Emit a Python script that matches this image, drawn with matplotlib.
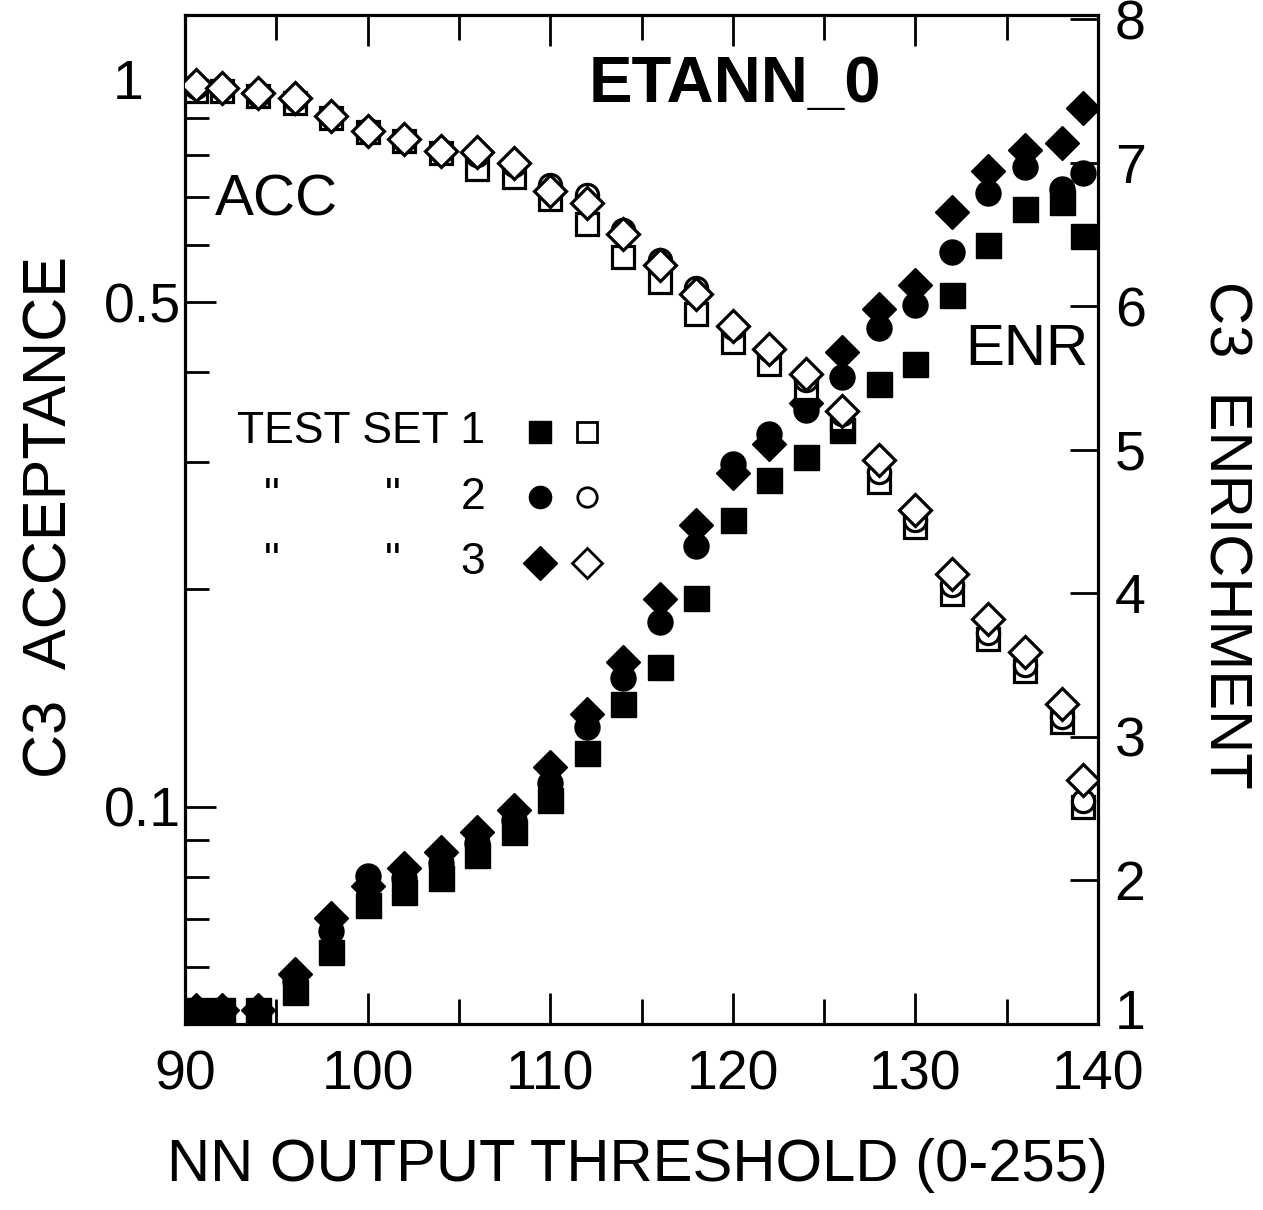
import matplotlib
matplotlib.use("Agg")
import matplotlib.pyplot as plt
import matplotlib.transforms as mtransforms
from matplotlib.ticker import FixedLocator, FixedFormatter, NullFormatter

plt.rcParams['font.family'] = ['Liberation Sans', 'DejaVu Sans']

# NN output threshold values (x)
threshold = [90.6, 92, 94, 96, 98, 100, 102, 104, 106, 108, 110, 112, 114,
             116, 118, 120, 122, 124, 126, 128, 130, 132, 134, 136, 138, 139.2]

# C3 enrichment (right axis, filled markers)
enr_set1 = [1.1, 1.1, 1.1, 1.22, 1.5, 1.83, 1.92, 2.02, 2.18, 2.34, 2.56, 2.89, 3.23,
            3.49, 3.97, 4.51, 4.79, 4.95, 5.14, 5.46, 5.6, 6.08, 6.43, 6.68, 6.73, 6.49]
enr_set2 = [1.1, 1.1, 1.1, 1.3, 1.65, 2.03, 2.02, 2.12, 2.26, 2.42, 2.68, 3.07, 3.41,
            3.80, 4.33, 4.9, 5.11, 5.28, 5.51, 5.85, 6.01, 6.38, 6.79, 6.97, 6.82, 6.93]
enr_set3 = [1.1, 1.1, 1.1, 1.35, 1.74, 1.96, 2.09, 2.2, 2.34, 2.49, 2.79, 3.16, 3.52,
            3.96, 4.48, 4.84, 5.04, 5.33, 5.68, 5.98, 6.15, 6.66, 6.94, 7.09, 7.14, 7.38]

# C3 acceptance (left axis, open markers)
acc_set1 = [0.98, 0.98, 0.965, 0.945, 0.9, 0.86, 0.835, 0.805, 0.764, 0.745, 0.695, 0.641, 0.577,
            0.534, 0.481, 0.44, 0.411, 0.38, 0.345, 0.282, 0.244, 0.197, 0.171, 0.154, 0.131, 0.1]
acc_set2 = [0.995, 0.99, 0.97, 0.955, 0.905, 0.865, 0.84, 0.81, 0.8, 0.775, 0.726, 0.704, 0.63,
            0.573, 0.523, 0.46, 0.43, 0.39, 0.35, 0.291, 0.25, 0.203, 0.174, 0.157, 0.133, 0.102]
acc_set3 = [1.0, 0.99, 0.975, 0.96, 0.906, 0.863, 0.842, 0.81, 0.807, 0.78, 0.712, 0.686, 0.621,
            0.563, 0.514, 0.463, 0.431, 0.398, 0.353, 0.302, 0.258, 0.21, 0.182, 0.164, 0.139, 0.109]

acc_ticks = [0.1, 0.5, 1]
acc_tick_labels = ['0.1', '0.5', '']
acc_minor = [0.06, 0.07, 0.08, 0.09, 0.2, 0.3, 0.4, 0.6, 0.7, 0.8, 0.9]
enr_ticks = [1, 2, 3, 4, 5, 6, 7, 8]
enr_tick_labels = ['', '2', '3', '4', '5', '6', '7', '8']
x_ticks = [90, 100, 110, 120, 130, 140]
x_minor = [95, 105, 115, 125, 135]

fig = plt.figure(figsize=(12.63, 12.10), dpi=100)
ax_enr = fig.add_axes([0.1465, 0.1537, 0.7229, 0.8339])
ax_acc = ax_enr.twinx()

# enrichment on the right, acceptance on the left (acc drawn on top)
ax_enr.yaxis.tick_right()
ax_acc.yaxis.tick_left()

ms_fill = 18
ms_open = 16
lw_open = 2.3
ax_enr.plot(threshold, enr_set1, 's', color='black', ms=ms_fill, ls='none', zorder=3)
ax_enr.plot(threshold, enr_set2, 'o', color='black', ms=ms_fill, ls='none', zorder=3)
ax_enr.plot(threshold, enr_set3, 'D', color='black', ms=ms_fill - 0.5, ls='none', zorder=3)

ax_acc.plot(threshold, acc_set1, 's', mfc='white', mec='black', mew=lw_open, ms=ms_open, ls='none', zorder=4)
ax_acc.plot(threshold, acc_set2, 'o', mfc='white', mec='black', mew=lw_open, ms=ms_open, ls='none', zorder=5)
ax_acc.plot(threshold, acc_set3, 'D', mfc='white', mec='black', mew=lw_open, ms=ms_open, ls='none', zorder=6)

# axes ranges
ax_enr.set_xlim(90, 140)
ax_enr.set_ylim(1, 8.03)
ax_acc.set_yscale('log')
ax_acc.set_ylim(0.05, 1.25)

# x ticks
ax_enr.xaxis.set_major_locator(FixedLocator(x_ticks))
ax_enr.xaxis.set_minor_locator(FixedLocator(x_minor))
ax_enr.tick_params(axis='x', which='both', direction='in', top=True, bottom=True,
                   width=2, labelsize=40, pad=18)
ax_enr.tick_params(axis='x', which='major', length=22)
ax_enr.tick_params(axis='x', which='minor', length=18)

# right y ticks
ax_enr.yaxis.set_major_locator(FixedLocator(enr_ticks))
ax_enr.yaxis.set_major_formatter(FixedFormatter(enr_tick_labels))
ax_enr.tick_params(axis='y', which='major', direction='in', length=20, width=2,
                   labelsize=40, pad=12, left=False, right=True,
                   labelleft=False, labelright=True)

# the bottom "1" on the right is lifted a little in the original
blend_r = mtransforms.blended_transform_factory(ax_enr.transAxes, ax_enr.transData)
lift = mtransforms.ScaledTranslation(0, 9 / 100, fig.dpi_scale_trans)
ax_enr.text(1.0 + 17 / 913, 1.0, '1', transform=blend_r + lift, ha='left', va='center',
            fontsize=40, clip_on=False)

# left y ticks (log)
ax_acc.yaxis.set_major_locator(FixedLocator(acc_ticks))
ax_acc.yaxis.set_major_formatter(FixedFormatter(acc_tick_labels))
ax_acc.yaxis.set_minor_locator(FixedLocator(acc_minor))
ax_acc.yaxis.set_minor_formatter(NullFormatter())
ax_acc.tick_params(axis='y', which='both', direction='in', width=2, labelsize=40, pad=3,
                   left=True, right=False, labelleft=True, labelright=False)
ax_acc.tick_params(axis='y', which='major', length=22)
ax_acc.tick_params(axis='y', which='minor', length=17)

# the "1" label sits further left in the original
blend = mtransforms.blended_transform_factory(ax_acc.transAxes, ax_acc.transData)
ax_acc.text(-0.045, 1.0, '1', transform=blend, ha='right', va='center', fontsize=40)

for sp in ax_enr.spines.values():
    sp.set_linewidth(2.3)
for sp in ax_acc.spines.values():
    sp.set_visible(False)

# annotations
ax_acc.text(0.602, 0.931, 'ETANN_0', transform=ax_acc.transAxes, ha='center', va='center',
            fontsize=47, fontweight='bold')
ax_acc.text(0.033, 0.816, 'ACC', transform=ax_acc.transAxes, ha='left', va='center', fontsize=42)
ax_acc.text(0.989, 0.668, 'ENR', transform=ax_acc.transAxes, ha='right', va='center', fontsize=42)

# hand-made legend
leg_rows = [0.587, 0.522, 0.457]
leg_markers = ['s', 'o', 'D']
leg_fill_x = 0.389
leg_open_x = 0.440
ax_acc.text(0.3286, leg_rows[0], 'TEST SET 1', transform=ax_acc.transAxes,
            ha='right', va='center', fontsize=32)
for row, num in zip(leg_rows[1:], ['2', '3']):
    ax_acc.text(0.095, row, '"', transform=ax_acc.transAxes, ha='center', va='center', fontsize=32)
    ax_acc.text(0.227, row, '"', transform=ax_acc.transAxes, ha='center', va='center', fontsize=32)
    ax_acc.text(0.3286, row, num, transform=ax_acc.transAxes, ha='right', va='center', fontsize=32)
for row, m in zip(leg_rows, leg_markers):
    size = 17 if m == 'D' else 16
    ax_acc.plot([leg_fill_x], [row], m, color='black', ms=size, transform=ax_acc.transAxes,
                clip_on=False)
    ax_acc.plot([leg_open_x], [row], m, mfc='white', mec='black', mew=2.0, ms=size - 2,
                transform=ax_acc.transAxes, clip_on=False)

# axis titles
fig.text(0.505, 0.037, 'NN OUTPUT THRESHOLD (0-255)', ha='center', va='center', fontsize=43)
fig.text(0.04, 0.573, 'C3  ACCEPTANCE', ha='center', va='center', rotation=90, fontsize=44)
fig.text(0.97, 0.558, 'C3  ENRICHMENT', ha='center', va='center', rotation=270, fontsize=43)

fig.savefig('out.png', dpi=100)
